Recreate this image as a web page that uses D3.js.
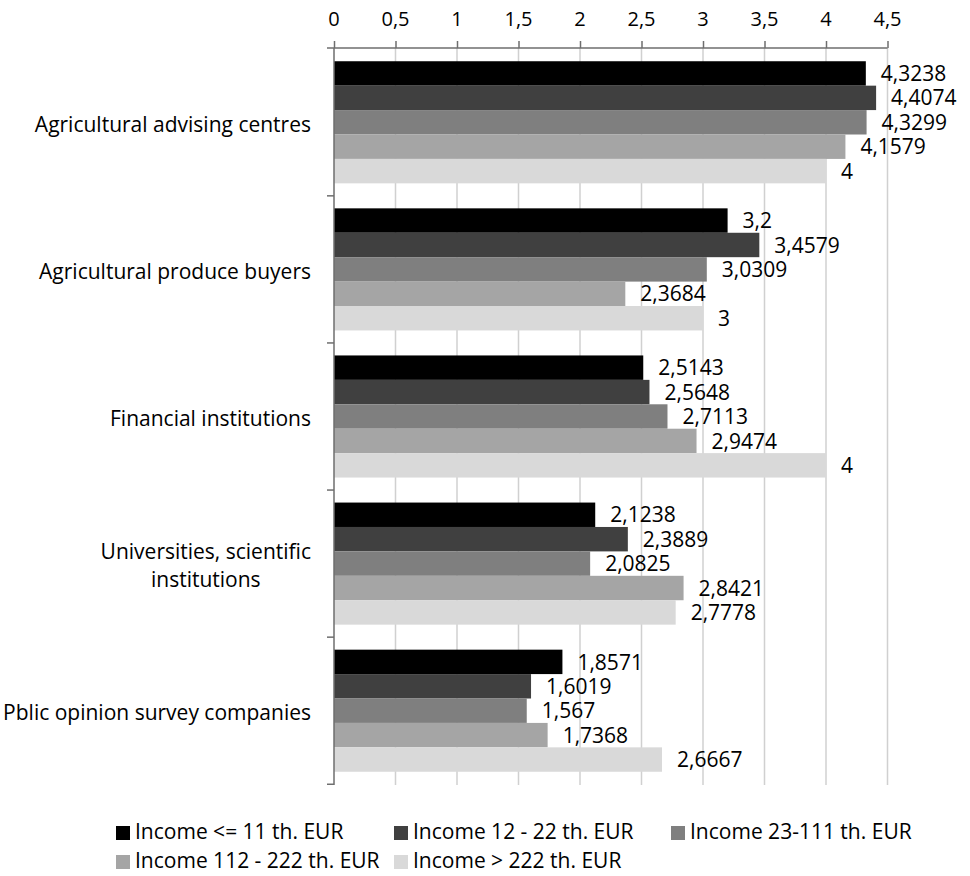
<!DOCTYPE html>
<html lang="en">
<head>
    <meta charset="UTF-8">
    <title>Income groups</title>
    <style>
        body { margin: 0; background: #fff; }
        text { font-family: "Open Sans", sans-serif; fill: #000; }
        .tick-label { font-size: 20px; text-anchor: middle; }
        .cat-label { font-size: 21px; }
        .value-label { font-size: 21px; dominant-baseline: middle; }
        .legend-label { font-size: 21px; dominant-baseline: middle; }
        .grid line { stroke: #d0d0d0; stroke-width: 1.5px; }
        .axis-line { stroke: #6e6e6e; stroke-width: 1.5px; fill: none; }
    </style>
</head>
<body>
<script src="https://d3js.org/d3.v7.min.js"></script>
<script>
    const categories = [
        ['Agricultural advising centres'],
        ['Agricultural produce buyers'],
        ['Financial institutions'],
        ['Universities, scientific', 'institutions'],
        ['Pblic opinion survey companies']
    ];
    const seriesNames = [
        'Income <= 11 th. EUR',
        'Income 12 - 22 th. EUR',
        'Income 23-111 th. EUR',
        'Income 112 - 222 th. EUR',
        'Income > 222 th. EUR'
    ];
    const seriesColors = ['#000000', '#404040', '#7f7f7f', '#a5a5a5', '#d9d9d9'];
    const incomeUpTo11 = [4.3238, 3.2, 2.5143, 2.1238, 1.8571];
    const income12to22 = [4.4074, 3.4579, 2.5648, 2.3889, 1.6019];
    const income23to111 = [4.3299, 3.0309, 2.7113, 2.0825, 1.567];
    const income112to222 = [4.1579, 2.3684, 2.9474, 2.8421, 1.7368];
    const incomeOver222 = [4, 3, 4, 2.7778, 2.6667];
    const xTickValues = [0, 0.5, 1, 1.5, 2, 2.5, 3, 3.5, 4, 4.5];

    const series = [incomeUpTo11, income12to22, income23to111, income112to222, incomeOver222];
    const fmt = v => String(v).replace('.', ',');

    const width = 970;
    const height = 876;
    const plotLeft = 334;
    const plotRight = 887.5;
    const plotTop = 48;
    const plotBottom = 785;

    const svg = d3.select('body').append('svg')
        .attr('width', width)
        .attr('height', height);

    const xScale = d3.scaleLinear().domain([0, 4.5]).range([plotLeft, plotRight]);
    const yScale = d3.scaleBand()
        .domain(d3.range(categories.length))
        .range([plotTop, plotBottom])
        .paddingInner(0.17)
        .paddingOuter(0.09);
    const ySub = d3.scaleBand()
        .domain(d3.range(series.length))
        .range([0, yScale.bandwidth()]);

    // vertical gridlines
    svg.append('g')
        .attr('class', 'grid')
        .selectAll('line')
        .data(xTickValues.slice(1))
        .join('line')
        .attr('x1', d => xScale(d))
        .attr('x2', d => xScale(d))
        .attr('y1', plotTop)
        .attr('y2', plotBottom);

    // bars
    const groups = svg.append('g')
        .selectAll('g')
        .data(categories.map((c, i) => i))
        .join('g')
        .attr('transform', i => `translate(0, ${yScale(i)})`);

    groups.selectAll('rect')
        .data(i => series.map((s, k) => ({ k, v: s[i] })))
        .join('rect')
        .attr('x', xScale(0))
        .attr('y', d => ySub(d.k))
        .attr('width', d => xScale(d.v) - xScale(0))
        .attr('height', ySub.bandwidth())
        .attr('fill', d => seriesColors[d.k]);

    groups.selectAll('text')
        .data(i => series.map((s, k) => ({ k, v: s[i] })))
        .join('text')
        .attr('class', 'value-label')
        .attr('x', d => xScale(d.v) + 15)
        .attr('y', d => ySub(d.k) + ySub.bandwidth() / 2 + 2)
        .text(d => fmt(d.v));

    // top axis
    const xAxis = d3.axisTop(xScale)
        .tickValues(xTickValues)
        .tickSize(7)
        .tickFormat('');
    const xg = svg.append('g')
        .attr('transform', `translate(0, ${plotTop})`)
        .call(xAxis);
    xg.select('.domain').remove();
    xg.selectAll('line').attr('stroke', '#6e6e6e').attr('stroke-width', 1.5);
    svg.append('line')
        .attr('class', 'axis-line')
        .attr('x1', plotLeft - 7).attr('x2', plotRight)
        .attr('y1', plotTop).attr('y2', plotTop);

    svg.append('g')
        .selectAll('text')
        .data(xTickValues)
        .join('text')
        .attr('class', 'tick-label')
        .attr('x', d => xScale(d))
        .attr('y', 26)
        .text(d => fmt(d));

    // left axis
    svg.append('line')
        .attr('class', 'axis-line')
        .attr('x1', plotLeft).attr('x2', plotLeft)
        .attr('y1', plotTop).attr('y2', plotBottom);
    const bounds = d3.range(categories.length).map(i => yScale(i) + yScale.bandwidth() + yScale.step() * yScale.paddingInner() / 2);
    svg.append('g')
        .selectAll('line')
        .data(bounds)
        .join('line')
        .attr('class', 'axis-line')
        .attr('x1', plotLeft - 7).attr('x2', plotLeft)
        .attr('y1', d => Math.min(d, plotBottom)).attr('y2', d => Math.min(d, plotBottom));

    // category labels
    const lineH = 28;
    categories.forEach((lines, i) => {
        const cy = yScale(i) + yScale.bandwidth() / 2;
        const t = svg.append('text')
            .attr('class', 'cat-label')
            .attr('text-anchor', 'middle');
        lines.forEach((ln, j) => {
            t.append('tspan')
                .attr('y', cy + (j - (lines.length - 1) / 2) * lineH + 2)
                .attr('dy', '0.35em')
                .text(ln);
        });
        const maxW = d3.max(t.selectAll('tspan').nodes(), n => n.getComputedTextLength());
        t.selectAll('tspan').attr('x', 311 - maxW / 2);
    });

    // legend
    const legendPos = [[116, 833], [394, 833], [671, 833], [116, 862], [394, 862]];
    const legend = svg.append('g')
        .selectAll('g')
        .data(seriesNames)
        .join('g')
        .attr('transform', (d, i) => `translate(${legendPos[i][0]}, ${legendPos[i][1]})`);
    legend.append('rect')
        .attr('x', 0).attr('y', -7)
        .attr('width', 14).attr('height', 14)
        .attr('fill', (d, i) => seriesColors[i]);
    legend.append('text')
        .attr('class', 'legend-label')
        .attr('x', 19)
        .attr('y', 0)
        .text(d => d);
</script>
</body>
</html>
